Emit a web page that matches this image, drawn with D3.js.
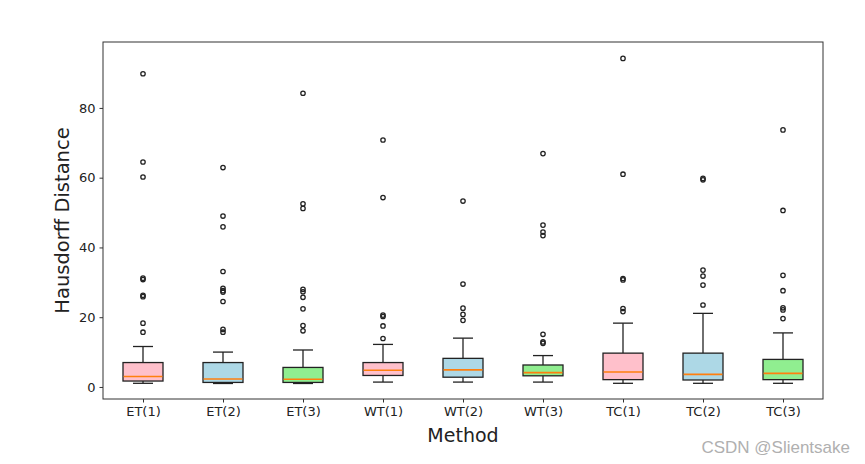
<!DOCTYPE html>
<html>
<head>
<meta charset="utf-8">
<script src="https://cdn.jsdelivr.net/npm/d3@7"></script>
<style>
  body { margin: 0; background: #fff; }
  svg { display: block; font-family: "DejaVu Sans", sans-serif; }
</style>
</head>
<body>
<div id="chart"></div>
<script>
// Box plot data
const methods = ["ET(1)", "ET(2)", "ET(3)", "WT(1)", "WT(2)", "WT(3)", "TC(1)", "TC(2)", "TC(3)"];
const whiskerLow  = [1.05, 1.0, 1.0, 1.4, 1.4, 1.4, 1.05, 1.05, 1.05];
const q1          = [1.7, 1.3, 1.3, 3.3, 2.8, 3.2, 2.1, 2.0, 2.1];
const medians     = [3.0, 2.3, 2.2, 4.8, 4.9, 4.1, 4.3, 3.6, 3.9];
const q3          = [7.0, 7.0, 5.6, 7.0, 8.2, 6.3, 9.7, 9.7, 7.9];
const whiskerHigh = [11.6, 10.0, 10.6, 12.2, 14.0, 9.0, 18.3, 21.1, 15.5];
const outliers = [
    [89.8, 64.5, 60.2, 31.2, 30.8, 26.3, 25.9, 18.3, 15.7],
    [62.9, 49.0, 45.9, 33.1, 28.3, 27.6, 27.2, 24.5, 16.5, 15.7],
    [84.2, 52.5, 51.2, 28.0, 27.3, 25.7, 22.4, 17.6, 16.1],
    [70.8, 54.3, 20.6, 20.2, 17.5, 13.9],
    [53.3, 29.5, 22.6, 20.8, 19.1],
    [66.9, 46.4, 44.4, 43.4, 15.1, 12.9, 12.5],
    [94.2, 61.0, 31.1, 30.7, 22.5, 21.6],
    [59.8, 59.4, 33.5, 31.8, 29.2, 23.5],
    [73.7, 50.6, 32.0, 27.6, 22.7, 22.1, 19.6]
];
const boxColors = ["pink", "lightblue", "lightgreen"];
const yTicks = [0, 20, 40, 60, 80];

const svg = d3.select("#chart").append("svg").attr("width", 865).attr("height", 464);
const margin = { top: 42, right: 42, bottom: 65, left: 103 };
const width = 865 - margin.left - margin.right;
const height = 464 - margin.top - margin.bottom;

const g = svg.append("g").attr("transform", `translate(${margin.left},${margin.top})`);

const x = d3.scalePoint().domain(methods).range([0, width]).padding(0.5);
const y = d3.scaleLinear().domain([-3.45, 98.9]).range([height, 0]);
const boxW = x.step() * 0.5;
const capW = boxW * 0.5;

// axes
const xAxis = g.append("g")
    .attr("transform", `translate(0,${height})`)
    .call(d3.axisBottom(x).tickSize(3.5).tickPadding(4));
const yAxis = g.append("g")
    .call(d3.axisLeft(y).tickValues(yTicks).tickSize(3.5).tickPadding(4));
[xAxis, yAxis].forEach(a => {
    a.select(".domain").remove();
    a.selectAll("text").attr("font-size", 13).attr("fill", "#222").attr("font-family", "DejaVu Sans");
    a.selectAll("line").attr("stroke", "#333");
});

// boxes
const boxes = g.selectAll(".box")
    .data(methods)
    .enter().append("g")
    .attr("class", "box");

boxes.append("line")
    .attr("x1", d => x(d)).attr("x2", d => x(d))
    .attr("y1", (d, i) => y(whiskerLow[i])).attr("y2", (d, i) => y(q1[i]))
    .attr("stroke", "#222").attr("stroke-width", 1.3);
boxes.append("line")
    .attr("x1", d => x(d)).attr("x2", d => x(d))
    .attr("y1", (d, i) => y(q3[i])).attr("y2", (d, i) => y(whiskerHigh[i]))
    .attr("stroke", "#222").attr("stroke-width", 1.3);
boxes.append("line")
    .attr("x1", d => x(d) - capW / 2).attr("x2", d => x(d) + capW / 2)
    .attr("y1", (d, i) => y(whiskerLow[i])).attr("y2", (d, i) => y(whiskerLow[i]))
    .attr("stroke", "#222").attr("stroke-width", 1.3);
boxes.append("line")
    .attr("x1", d => x(d) - capW / 2).attr("x2", d => x(d) + capW / 2)
    .attr("y1", (d, i) => y(whiskerHigh[i])).attr("y2", (d, i) => y(whiskerHigh[i]))
    .attr("stroke", "#222").attr("stroke-width", 1.3);
boxes.append("rect")
    .attr("x", d => x(d) - boxW / 2)
    .attr("width", boxW)
    .attr("y", (d, i) => y(q3[i]))
    .attr("height", (d, i) => y(q1[i]) - y(q3[i]))
    .attr("fill", (d, i) => boxColors[i % 3])
    .attr("stroke", "#222").attr("stroke-width", 1.3);
boxes.append("line")
    .attr("x1", d => x(d) - boxW / 2 + 0.6).attr("x2", d => x(d) + boxW / 2 - 0.6)
    .attr("y1", (d, i) => y(medians[i])).attr("y2", (d, i) => y(medians[i]))
    .attr("stroke", "#ff7f0e").attr("stroke-width", 1.6);

// outliers
boxes.each(function (d, i) {
    d3.select(this).selectAll("circle")
        .data(outliers[i])
        .enter().append("circle")
        .attr("cx", x(d))
        .attr("cy", v => y(v))
        .attr("r", 2.2)
        .attr("fill", "none")
        .attr("stroke", "#222")
        .attr("stroke-width", 1.3);
});

// frame
g.append("rect")
    .attr("width", width).attr("height", height)
    .attr("fill", "none").attr("stroke", "#333").attr("stroke-width", 1);

// labels
svg.append("text")
    .attr("x", margin.left + width / 2).attr("y", 442)
    .attr("text-anchor", "middle").attr("font-size", 19).attr("fill", "#222")
    .text("Method");
svg.append("text")
    .attr("transform", `translate(69,${margin.top + height / 2}) rotate(-90)`)
    .attr("text-anchor", "middle").attr("font-size", 19.5).attr("fill", "#222")
    .text("Hausdorff Distance");

// watermark
svg.append("text")
    .attr("x", 850).attr("y", 453)
    .attr("text-anchor", "end").attr("font-size", 17).attr("fill", "#b0b0b0")
    .attr("font-family", "Liberation Sans, Arial, sans-serif")
    .text("CSDN @Slientsake");
</script>
</body>
</html>
